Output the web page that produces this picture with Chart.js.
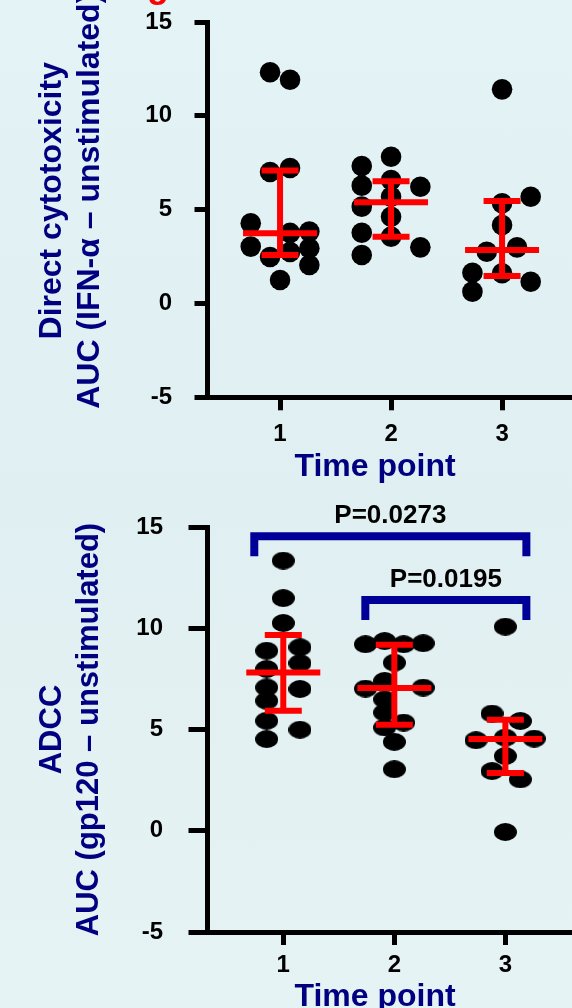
<!DOCTYPE html>
<html><head><meta charset="utf-8">
<script src="https://cdn.jsdelivr.net/npm/chart.js@4"></script>
<style>
html,body{margin:0;padding:0;width:572px;height:1008px;overflow:hidden;
background:linear-gradient(to bottom,#e3f3f6 0%,#e0eff1 50%,#e6f3f5 100%);}
canvas{position:absolute;left:0;display:block;}
#c1{top:0}
#c2{top:490px}
</style></head><body>
<canvas id="c1" width="572" height="490"></canvas>
<canvas id="c2" width="572" height="518"></canvas>
<script>
// ---------- data ----------
const timePoints = [1, 2, 3];
const yTickValues = [-5, 0, 5, 10, 15];

// Direct cytotoxicity, AUC (IFN-α – unstimulated)
const cytoT1 = [12.32, 11.92, 7.01, 7.22, 4.27, 3.03, 2.48, 3.76, 2.74, 3.83, 2.94, 2.05, 1.25];
const cytoT1Dx = [-0.09, 0.09, -0.09, 0.09, -0.264, -0.264, -0.09, 0.09, 0.09, 0.264, 0.264, 0.264, 0];
const cytoT2 = [7.33, 7.82, 6.28, 6.58, 6.22, 5.69, 5.16, 4.62, 3.77, 3.56, 2.99, 2.58];
const cytoT2Dx = [-0.264, 0, -0.264, 0, 0.264, 0, -0.264, 0, -0.264, 0, 0.264, -0.264];
const cytoT3 = [11.41, 5.69, 5.34, 4.18, 2.76, 2.99, 1.64, 1.61, 1.16, 0.63];
const cytoT3Dx = [0, 0.258, 0, 0, -0.138, 0.135, -0.267, 0, 0.258, -0.267];
const cytoMedian = [3.74, 5.39, 2.85];
const cytoQ1 = [2.58, 3.56, 1.47];
const cytoQ3 = [7.08, 6.51, 5.46];

// ADCC, AUC (gp120 – unstimulated)
const adccT1 = [13.34, 11.49, 10.26, 8.89, 9.06, 8.28, 7.99, 7.08, 7.00, 6.42, 5.43, 4.99, 4.53];
const adccT1Dx = [0, 0, 0, -0.15, 0.15, 0.15, -0.15, -0.15, 0.15, -0.15, -0.15, 0.15, -0.15];
const adccT2 = [9.21, 9.37, 9.21, 9.26, 8.30, 7.02, 7.40, 7.07, 6.49, 5.84, 5.34, 5.10, 4.39, 3.04];
const adccT2Dx = [-0.26, -0.087, 0.084, 0.26, 0, -0.26, -0.087, 0.26, -0.087, -0.087, 0.084, -0.087, 0, 0];
const adccT3 = [10.08, 5.79, 5.42, 4.47, 4.60, 4.55, 3.69, 2.95, 2.54, -0.06];
const adccT3Dx = [0, -0.12, 0.135, -0.264, 0, 0.26, 0, -0.12, 0.135, 0];
const adccMedian = [7.82, 7.05, 4.53];
const adccQ1 = [5.93, 5.24, 2.85];
const adccQ3 = [9.67, 9.19, 5.48];

// significance brackets (ADCC)
const adccBracketFrom = [1, 2];
const adccBracketTo = [3, 3];
const adccBracketY = [14.54, 11.40];
const adccPLabels = ['P=0.0273', 'P=0.0195'];

// ---------- helpers ----------
const FONT = "'Liberation Sans', Arial, Helvetica, sans-serif";
const NAVY = '#000080';

function buildPoints(groups, offsets) {
  const pts = [];
  groups.forEach((vals, g) => {
    vals.forEach((v, i) => pts.push({ x: timePoints[g] + offsets[g][i], y: v }));
  });
  return pts;
}

function makeEllipse(w, h) {
  const c = document.createElement('canvas');
  c.width = w; c.height = h;
  const g = c.getContext('2d');
  g.fillStyle = '#000';
  g.beginPath();
  g.ellipse(w / 2, h / 2, w / 2, h / 2, 0, 0, Math.PI * 2);
  g.fill();
  return c;
}

function zeroPad(s) {
  s.paddingTop = 0; s.paddingBottom = 0; s.paddingLeft = 0; s.paddingRight = 0;
}

function yScale(tickLen, pad, lines, titleSize) {
  return {
    type: 'linear', min: -5, max: 15,
    afterBuildTicks: s => { s.ticks = yTickValues.map(v => ({ value: v })); },
    afterFit: s => { s.width = 207; zeroPad(s); },
    grid: { drawOnChartArea: false, drawTicks: true, tickLength: tickLen, lineWidth: 5, color: '#000' },
    border: { display: true, width: 5, color: '#000' },
    ticks: { color: '#000', font: { family: FONT, size: 24, weight: 'bold' }, padding: pad },
    title: { display: true, text: lines, color: NAVY,
      font: { family: FONT, size: titleSize, weight: 'bold', lineHeight: 1.2 },
      padding: { top: 52 - titleSize * 0.6, bottom: 0 } }
  };
}

function xScale(min, max, height, pad) {
  return {
    type: 'linear', min: min, max: max, bounds: 'data',
    afterBuildTicks: s => { s.ticks = timePoints.map(v => ({ value: v })); },
    afterFit: s => { s.height = height; zeroPad(s); },
    grid: { drawOnChartArea: false, drawTicks: true, tickLength: 13, lineWidth: 5, color: '#000' },
    border: { display: true, width: 5, color: '#000' },
    ticks: { color: '#000', font: { family: FONT, size: 24, weight: 'bold' }, padding: pad,
      autoSkip: false, maxRotation: 0, callback: v => String(v) }
  };
}

function errorBarPlugin(med, q1, q3, titleBaseline, extra) {
  return {
    id: 'decor',
    afterDatasetsDraw(chart) {
      const { ctx, scales: { x, y } } = chart;
      ctx.save();
      ctx.strokeStyle = '#ff0000';
      ctx.lineWidth = 6;
      ctx.lineCap = 'butt';
      timePoints.forEach((t, i) => {
        const px = x.getPixelForValue(t);
        const pm = y.getPixelForValue(med[i]);
        const p1 = y.getPixelForValue(q1[i]);
        const p3 = y.getPixelForValue(q3[i]);
        ctx.beginPath();
        ctx.moveTo(px, p1); ctx.lineTo(px, p3);
        ctx.moveTo(px - 37, pm); ctx.lineTo(px + 37, pm);
        ctx.moveTo(px - 18.5, p1); ctx.lineTo(px + 18.5, p1);
        ctx.moveTo(px - 18.5, p3); ctx.lineTo(px + 18.5, p3);
        ctx.stroke();
      });
      ctx.restore();
      if (extra) extra(chart);
    },
    afterDraw(chart) {
      const { ctx } = chart;
      ctx.save();
      ctx.fillStyle = NAVY;
      ctx.font = 'bold 32px ' + FONT;
      ctx.textAlign = 'center';
      ctx.textBaseline = 'alphabetic';
      ctx.fillText('Time point', 375, titleBaseline);
      ctx.restore();
    }
  };
}

// ---------- top chart ----------
new Chart(document.getElementById('c1'), {
  type: 'scatter',
  data: { datasets: [{
    data: buildPoints([cytoT1, cytoT2, cytoT3], [cytoT1Dx, cytoT2Dx, cytoT3Dx]),
    backgroundColor: '#000', borderWidth: 0, pointRadius: 10.3, pointHoverRadius: 10.3
  }] },
  options: {
    responsive: false, animation: false, devicePixelRatio: 1,
    layout: { autoPadding: false, padding: { top: 22, left: 0, right: 0, bottom: 0 } },
    plugins: { legend: { display: false }, tooltip: { enabled: false } },
    scales: {
      x: xScale(0.342, 3.63, 490 - 397.3, 10),
      y: yScale(12.5, 22.5,
        ['\u00a0\u00a0Direct cytotoxicity', '\u00a0\u00a0AUC (IFN-\u03b1 \u2013 unstimulated)'], 32)
    }
  },
  plugins: [errorBarPlugin(cytoMedian, cytoQ1, cytoQ3, 476, chart => {
    const ctx = chart.ctx;
    ctx.save();
    ctx.fillStyle = '#ff0000';
    ctx.font = 'bold 36px ' + FONT;
    ctx.textAlign = 'left';
    ctx.fillText('g', 147, -3);
    ctx.restore();
  })]
});

// ---------- bottom chart ----------
const ellipse = makeEllipse(23, 18);
new Chart(document.getElementById('c2'), {
  type: 'scatter',
  data: { datasets: [{
    data: buildPoints([adccT1, adccT2, adccT3], [adccT1Dx, adccT2Dx, adccT3Dx]),
    backgroundColor: '#000', borderWidth: 0, pointRadius: 10, pointStyle: ellipse
  }] },
  options: {
    responsive: false, animation: false, devicePixelRatio: 1,
    layout: { autoPadding: false, padding: { top: 37, left: 0, right: 0, bottom: 0 } },
    plugins: { legend: { display: false }, tooltip: { enabled: false } },
    scales: {
      x: xScale(0.313, 3.60, 518 - 442, 6),
      y: yScale(18.5, 25.5, ['ADCC', 'AUC (gp120 \u2013 unstimulated)'], 31)
    }
  },
  plugins: [errorBarPlugin(adccMedian, adccQ1, adccQ3, 516, chart => {
    const { ctx, scales: { x, y } } = chart;
    ctx.save();
    ctx.strokeStyle = '#000099';
    ctx.lineWidth = 8;
    ctx.lineJoin = 'miter';
    ctx.lineCap = 'butt';
    ctx.fillStyle = '#000';
    ctx.font = 'bold 26px ' + FONT;
    ctx.textAlign = 'center';
    ctx.textBaseline = 'alphabetic';
    adccBracketFrom.forEach((a, i) => {
      const xl = x.getPixelForValue(a) - 29;
      const xr = x.getPixelForValue(adccBracketTo[i]) + 21;
      const yb = y.getPixelForValue(adccBracketY[i]);
      ctx.beginPath();
      ctx.moveTo(xl, yb + 20); ctx.lineTo(xl, yb); ctx.lineTo(xr, yb); ctx.lineTo(xr, yb + 20);
      ctx.stroke();
      ctx.fillText(adccPLabels[i], (xl + xr) / 2, yb - 13);
    });
    ctx.restore();
  })]
});
</script></body></html>
